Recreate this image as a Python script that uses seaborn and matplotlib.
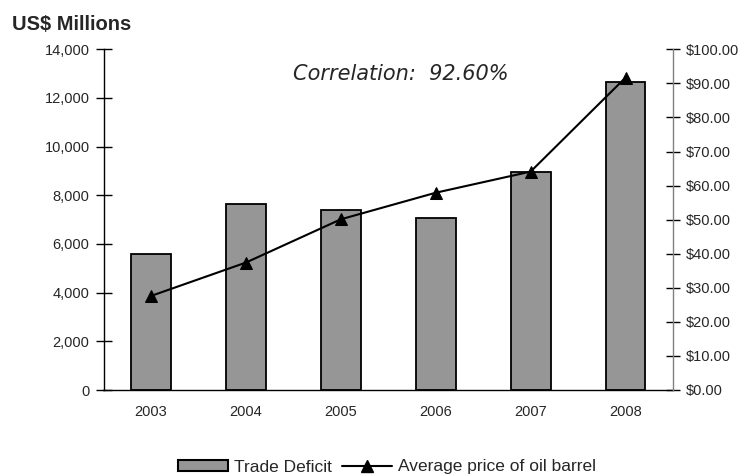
import numpy as np
import matplotlib
matplotlib.use("Agg")
import matplotlib.pyplot as plt
import seaborn as sns
from matplotlib.patches import Patch
from matplotlib.lines import Line2D
from matplotlib.ticker import FuncFormatter, FixedLocator

years = ["2003", "2004", "2005", "2006", "2007", "2008"]
trade_deficit = [5600, 7640, 7400, 7080, 8950, 12640]
oil_price = [27.6, 37.4, 50.1, 57.9, 64.1, 91.7]
left_ticks = [0, 2000, 4000, 6000, 8000, 10000, 12000, 14000]
right_ticks = [0, 10, 20, 30, 40, 50, 60, 70, 80, 90, 100]

sns.set_style("white")
plt.rcParams["font.family"] = ["Liberation Sans", "DejaVu Sans"]

BAR_GRAY = "#969696"

fig = plt.figure(figsize=(7.49, 4.76), dpi=100)
ax = fig.add_axes([103.5 / 749, 1 - 390 / 476, (673 - 103.5) / 749, (390 - 49.3) / 476])

sns.barplot(x=years, y=trade_deficit, color=BAR_GRAY, saturation=1,
            edgecolor="black", linewidth=1.3, width=0.42, ax=ax)

ax2 = ax.twinx()
pos = np.arange(len(years))
sns.lineplot(x=pos, y=oil_price, color="black", linewidth=1.5, marker="^",
             markersize=9, markeredgecolor="black", ax=ax2)

# left axis
ax.set_ylim(0, 14000)
ax.set_yticks(left_ticks)
ax.yaxis.set_major_formatter(FuncFormatter(lambda v, p: f"{v:,.0f}"))
ax.set_xlim(-0.5, len(years) - 0.5)
ax.xaxis.set_major_locator(FixedLocator(np.arange(-0.5, len(years), 1.0)))
ax.xaxis.set_major_formatter(FuncFormatter(lambda v, p: ""))
ax.xaxis.set_minor_locator(FixedLocator(pos))
ax.set_xticklabels(years, minor=True)
ax.tick_params(axis="x", which="minor", length=0, labelsize=10.5, pad=11)
ax.tick_params(axis="x", which="major", direction="inout", length=13, width=1, color="black")
ax.tick_params(axis="y", direction="inout", length=12, width=1, color="black",
               labelsize=10.5, pad=4, left=True)
ax.set_xlabel("")
ax.set_ylabel("")
for side in ("top", "right"):
    ax.spines[side].set_visible(False)
for side in ("left", "bottom"):
    ax.spines[side].set_color("black")
    ax.spines[side].set_linewidth(1.0)

# right axis
ax2.set_ylim(0, 100)
ax2.set_yticks(right_ticks)
ax2.yaxis.set_major_formatter(FuncFormatter(lambda v, p: f"${v:.2f}"))
ax2.tick_params(axis="y", direction="inout", length=10, width=1, color="black",
                labelsize=10.5, pad=4, right=True)
ax2.set_ylabel("")
ax2.set_xlabel("")
for side in ("top", "left", "bottom"):
    ax2.spines[side].set_visible(False)
ax2.spines["right"].set_color("#808080")
ax2.spines["right"].set_linewidth(1.0)
ax2.set_xlim(-0.5, len(years) - 0.5)

fig.text(12 / 749, 1 - 25 / 476, "US$ Millions", fontsize=14.5, fontweight="bold",
         ha="left", va="center")
fig.text(401 / 749, 1 - 74.5 / 476, "Correlation:  92.60%", fontsize=15,
         fontstyle="italic", family=["DejaVu Sans"], ha="center", va="center")

handles = [
    Patch(facecolor=BAR_GRAY, edgecolor="black", linewidth=1.5),
    Line2D([], [], color="black", linewidth=1.5, marker="^", markersize=9),
]
fig.legend(handles, ["Trade Deficit", "Average price of oil barrel"],
           loc="center", bbox_to_anchor=(387 / 749, 1 - 467 / 476), ncol=2,
           frameon=False, fontsize=12.5, handlelength=2.9, handleheight=0.6,
           handletextpad=0.35, columnspacing=0.55)

fig.savefig("out.png", dpi=100)
